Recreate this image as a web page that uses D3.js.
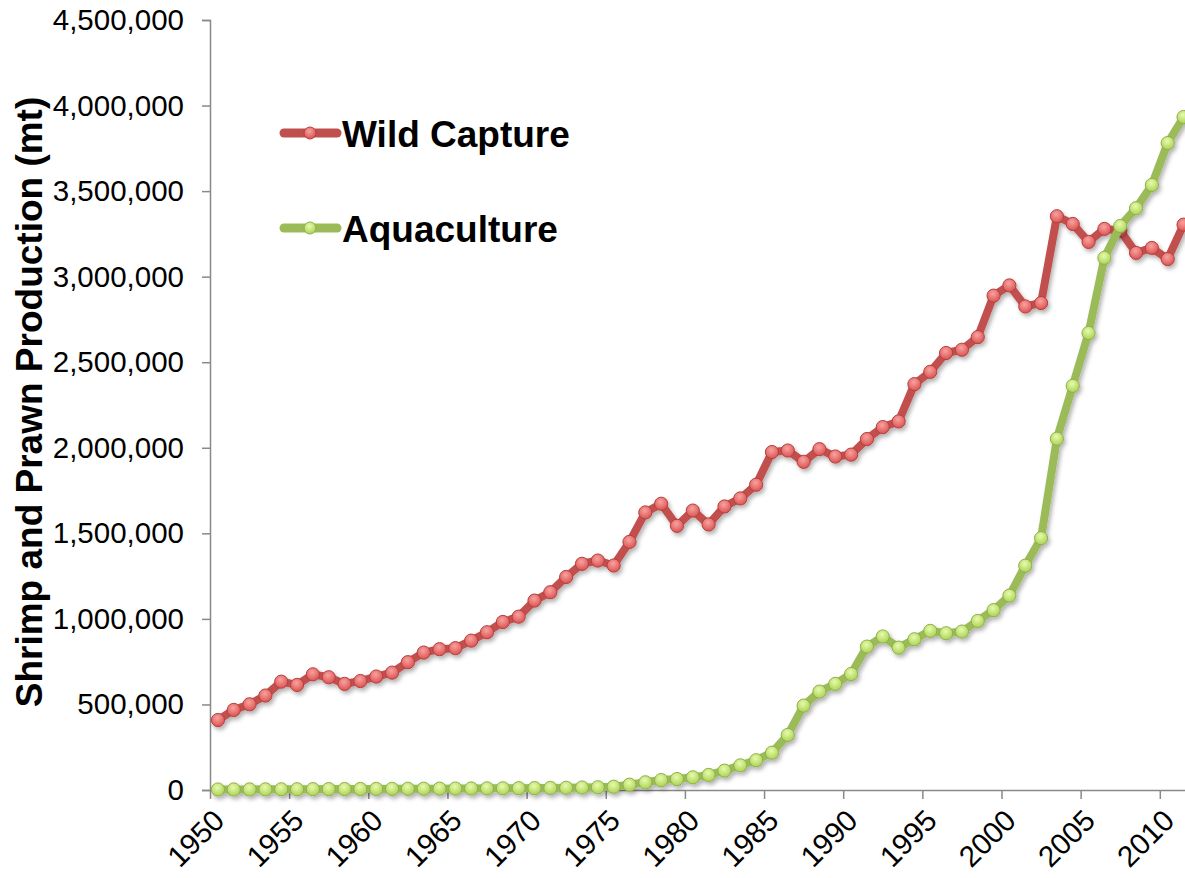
<!DOCTYPE html>
<html>
<head>
<meta charset="utf-8">
<script src="https://cdn.jsdelivr.net/npm/d3@7"></script>
<style>
  body { margin: 0; background: #fff; }
  svg { display: block; }
</style>
</head>
<body>
<div id="chart"></div>
<script>
/********** Data **********/
var years = [1950, 1951, 1952, 1953, 1954, 1955, 1956, 1957, 1958, 1959,
  1960, 1961, 1962, 1963, 1964, 1965, 1966, 1967, 1968, 1969,
  1970, 1971, 1972, 1973, 1974, 1975, 1976, 1977, 1978, 1979,
  1980, 1981, 1982, 1983, 1984, 1985, 1986, 1987, 1988, 1989,
  1990, 1991, 1992, 1993, 1994, 1995, 1996, 1997, 1998, 1999,
  2000, 2001, 2002, 2003, 2004, 2005, 2006, 2007, 2008, 2009,
  2010, 2011]

var wildCapture = [409000, 468000, 501000, 552000, 633000, 614000, 676000, 659000, 620000, 637000,
  663000, 686000, 747000, 803000, 823000, 829000, 873000, 922000, 982000, 1013000,
  1107000, 1156000, 1245000, 1322000, 1341000, 1312000, 1450000, 1622000, 1673000, 1544000,
  1633000, 1552000, 1657000, 1704000, 1784000, 1975000, 1984000, 1918000, 1992000, 1949000,
  1960000, 2051000, 2121000, 2154000, 2372000, 2444000, 2554000, 2573000, 2647000, 2889000,
  2949000, 2826000, 2846000, 3353000, 3308000, 3203000, 3279000, 3270000, 3139000, 3168000,
  3103000, 3304000]

var aquaculture = [3000, 3200, 3500, 3800, 4200, 4500, 5000, 5200, 5600, 6000,
  6500, 6800, 7200, 7500, 8000, 8500, 9000, 9500, 10000, 10500,
  11000, 12000, 13000, 14500, 16000, 19000, 31000, 45000, 58000, 64000,
  74000, 88000, 113000, 144000, 174000, 218000, 322000, 493000, 575000, 620000,
  678000, 838000, 897000, 832000, 881000, 930000, 916000, 926000, 988000, 1051000,
  1136000, 1311000, 1472000, 2053000, 2362000, 2671000, 3110000, 3296000, 3400000, 3536000,
  3781000, 3933000]

var yTicks = [0, 500000, 1000000, 1500000, 2000000, 2500000, 3000000, 3500000, 4000000, 4500000]
var xLabelYears = [1950, 1955, 1960, 1965, 1970, 1975, 1980, 1985, 1990, 1995, 2000, 2005, 2010]

var seriesNames = ["Wild Capture", "Aquaculture"]

/********** Layout **********/
var W = 1185, H = 878
var margin = {left: 210, top: 20, bottom: 790}
var catWidth = 15.83

var svg = d3.select("#chart").append("svg")
    .attr("width", W)
    .attr("height", H)
    .style("font-family", "'Liberation Sans', Arial, sans-serif")

var defs = svg.append("defs")

var shadow = defs.append("filter").attr("id", "shadow")
    .attr("x", "-50%").attr("y", "-50%").attr("width", "200%").attr("height", "200%")
shadow.append("feDropShadow")
    .attr("dx", 2).attr("dy", 3).attr("stdDeviation", 2)
    .attr("flood-color", "#000").attr("flood-opacity", 0.3)

var styles = [
  {line: "#C0504D", stroke: "#B53F3C", hi: "#F7A3A1", lo: "#DC5250", id: "gRed"},
  {line: "#9BBB59", stroke: "#8DB04A", hi: "#E8FAAE", lo: "#AAD352", id: "gGreen"}
]
styles.forEach(function(s) {
  var g = defs.append("radialGradient").attr("id", s.id)
      .attr("cx", "45%").attr("cy", "35%").attr("r", "65%")
  g.append("stop").attr("offset", "0%").attr("stop-color", s.hi)
  g.append("stop").attr("offset", "100%").attr("stop-color", s.lo)
})

/********** Scales **********/
// category axis: one category per year, ticks between categories
var x = d3.scaleLinear()
    .domain([1949.5, 2012.5])
    .range([margin.left, margin.left + catWidth * 63])

var y = d3.scaleLinear()
    .domain([0, 4500000])
    .range([margin.bottom, margin.top])

/********** Axes **********/
var yAxis = svg.append("g")
    .attr("transform", "translate(" + margin.left + ",0)")
    .call(d3.axisLeft(y).tickValues(yTicks).tickFormat(d3.format(",")).tickSize(8).tickPadding(18))
yAxis.select(".domain").attr("stroke", "#898989").attr("stroke-width", 1.5)
yAxis.selectAll(".tick line").attr("stroke", "#898989").attr("stroke-width", 1.5)
yAxis.selectAll("text").style("font-size", "29.5px").attr("fill", "#000")

var xTickVals = xLabelYears.map(function(d) { return d - 0.5 })
var xAxis = svg.append("g")
    .attr("transform", "translate(0," + margin.bottom + ")")
    .call(d3.axisBottom(x).tickValues(xTickVals).tickFormat("").tickSize(9).tickSizeOuter(0))
xAxis.select(".domain").attr("stroke", "#898989").attr("stroke-width", 1.5)
xAxis.selectAll(".tick line").attr("stroke", "#898989").attr("stroke-width", 1.5)

svg.append("g").selectAll("text")
    .data(xLabelYears)
  .enter().append("text")
    .attr("transform", function(d) { return "translate(" + (x(d) + 1) + "," + (margin.bottom + 25) + ") rotate(-45)" })
    .attr("text-anchor", "end")
    .attr("dy", "0.35em")
    .style("font-size", "29.5px")
    .text(function(d) { return d })

// y axis title
svg.append("text")
    .attr("transform", "translate(42,402) rotate(-90)")
    .attr("text-anchor", "middle")
    .style("font-size", "37px")
    .style("font-weight", "bold")
    .text("Shrimp and Prawn Production (mt)")

/********** Lines **********/
var series = [wildCapture, aquaculture]
var line = d3.line()
    .x(function(d, i) { return x(years[i]) })
    .y(function(d) { return y(d) })

series.forEach(function(vals, k) {
  var s = styles[k]
  var g = svg.append("g").attr("filter", "url(#shadow)")
  g.append("path")
      .datum(vals)
      .attr("fill", "none")
      .attr("stroke", s.line)
      .attr("stroke-width", 8)
      .attr("stroke-linejoin", "round")
      .attr("d", line)
  g.selectAll("circle")
      .data(vals)
    .enter().append("circle")
      .attr("cx", function(d, i) { return x(years[i]) })
      .attr("cy", function(d) { return y(d) })
      .attr("r", 6.6)
      .attr("fill", "url(#" + s.id + ")")
      .attr("stroke", s.stroke)
      .attr("stroke-width", 1)
})

/********** Legend **********/
var legend = svg.append("g")
seriesNames.forEach(function(name, k) {
  var s = styles[k]
  var ly = 133 + k * 95
  var lg = legend.append("g").attr("transform", "translate(0," + ly + ")")
  lg.append("line")
      .attr("x1", 284).attr("x2", 337)
      .attr("stroke", s.line).attr("stroke-width", 9).attr("stroke-linecap", "round")
  lg.append("circle")
      .attr("cx", 310).attr("r", 6)
      .attr("fill", "url(#" + s.id + ")").attr("stroke", s.stroke)
  lg.append("text")
      .attr("x", 342).attr("y", 14)
      .style("font-size", "37px")
      .style("font-weight", "bold")
      .text(name)
})
</script>
</body>
</html>
